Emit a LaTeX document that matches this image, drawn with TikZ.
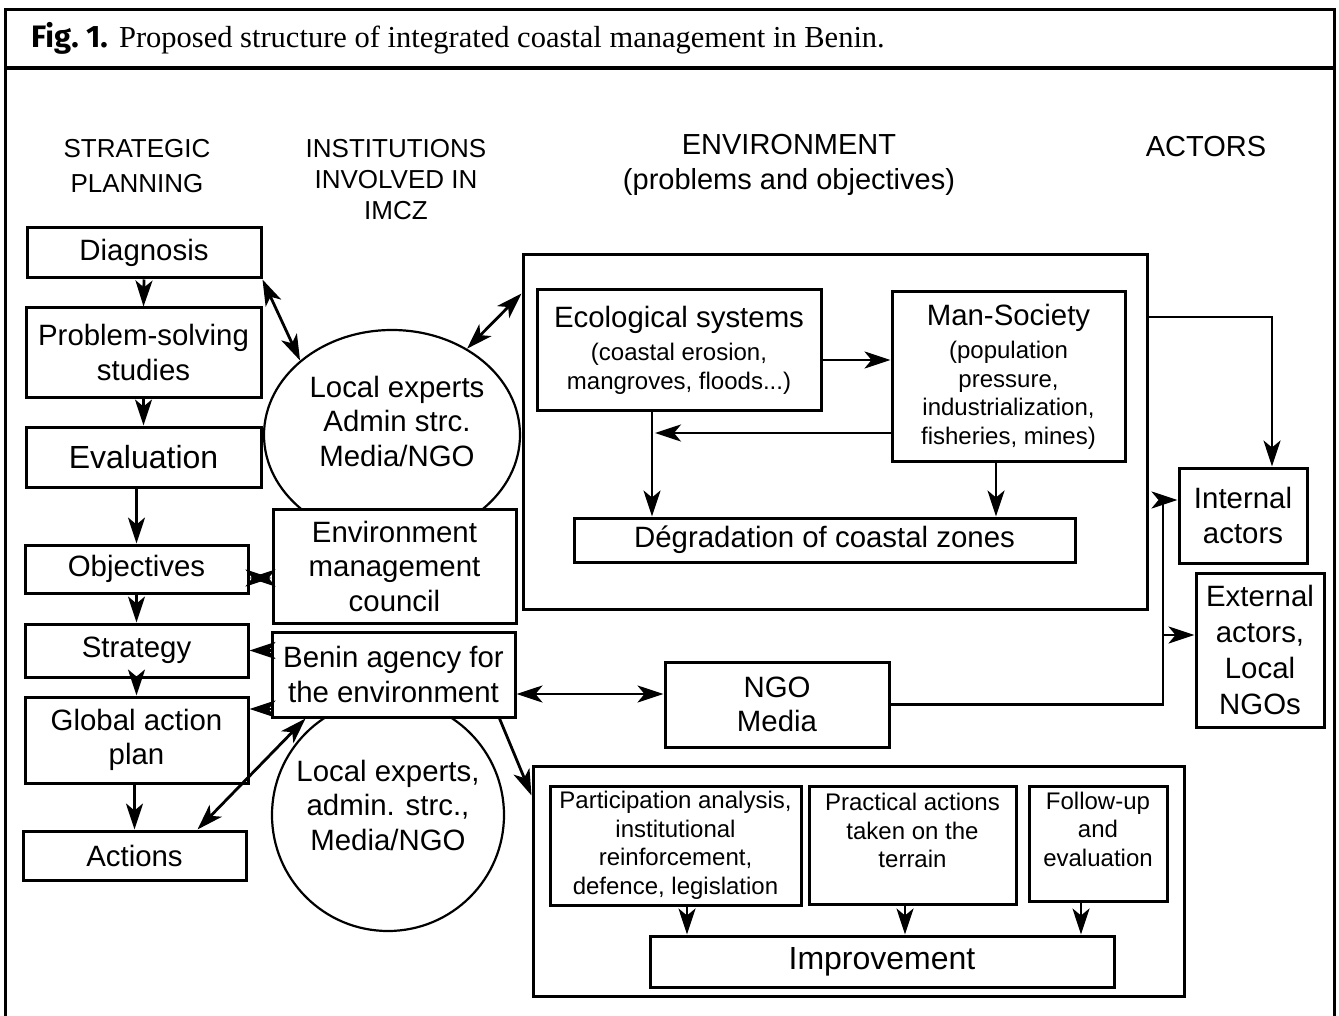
\documentclass[tikz,border=0pt]{standalone}
\usepackage{fontspec}
\setmainfont{Liberation Sans}
\newfontfamily\serifttl{Liberation Serif}
\newfontfamily\figttl{Fira Sans}
\usetikzlibrary{arrows.meta,shapes.geometric,calc}
\newcommand{\fBody}{\fontsize{29.4}{34.5}\selectfont}
\newcommand{\fSmall}{\fontsize{24}{28.5}\selectfont}
\newcommand{\fHead}{\fontsize{26}{35}\selectfont}
\newcommand{\fHeadB}{\fontsize{29}{35}\selectfont}
\newcommand{\fEval}{\fontsize{32}{36}\selectfont}
\newcommand{\fImp}{\fontsize{32}{36}\selectfont}
\newcommand{\fTitle}{\fontsize{30.5}{34}\selectfont}
\begin{document}
\begin{tikzpicture}[x=1pt,y=-1pt,
  box/.style={draw, line width=3pt, fill=white, inner sep=0pt, align=center, font=\fBody},
  smallbox/.style={box, font=\fSmall},
  bigframe/.style={draw, line width=3pt, inner sep=0pt},
  ring/.style={draw, line width=2.2pt, inner sep=0pt},
  lbl/.style={inner sep=0pt, align=center, font=\fBody},
  head/.style={inner sep=0pt, align=center, font=\fHead},
  arr/.style={line width=2.8pt, -{Stealth[length=26pt,width=17pt,inset=7pt]}},
  darr/.style={line width=2.8pt, {Stealth[length=26pt,width=17pt,inset=7pt]}-{Stealth[length=26pt,width=17pt,inset=7pt]}},
  plain/.style={line width=2.8pt}
]
\useasboundingbox (0,0) rectangle (1339,1016);
\fill[white] (0,0) rectangle (1339,1016);

% frame
\draw[line width=3pt] (5,1016) -- (5,10) -- (1334,10) -- (1334,1016);
\draw[line width=3.4pt] (5,68) -- (1334,68);
\node[anchor=base west, inner sep=0pt, font=\fTitle] (title) at (31,48)
  {{\figttl\bfseries\fontsize{31}{34}\selectfont Fig.~1.} {\serifttl Proposed structure of integrated coastal management in Benin.}};

% headers
\node[head] (h1) at (137,166) {STRATEGIC\\PLANNING};
\node[head, font=\fontsize{26}{31}\selectfont] (h2) at (396,180) {INSTITUTIONS\\INVOLVED IN\\IMCZ};
\node[head, font=\fHeadB] (h3) at (789,165) {ENVIRONMENT\\(problems and objectives)};
\node[head, font=\fHeadB] (h4) at (1206,147) {ACTORS};

% left column
\node[box, minimum width=234pt, minimum height=50pt] (diag) at (144,253) {Diagnosis};
\node[box, minimum width=235pt, minimum height=89pt] (prob) at (143.5,352.5) {Problem-solving\\studies};
\node[box, minimum width=235pt, minimum height=60pt, font=\fEval] (eval) at (143.5,457) {Evaluation};
\node[box, minimum width=223pt, minimum height=48pt] (obj) at (136.5,569) {Objectives};
\node[box, minimum width=223pt, minimum height=53pt] (strat) at (136.5,650.5) {Strategy};
\node[box, minimum width=223pt, minimum height=86pt] (glob) at (136.5,740) {Global action\\plan};
\node[box, minimum width=223pt, minimum height=49pt] (act) at (134.5,855.5) {Actions};

% middle column
\node[ring, ellipse, minimum width=256pt, minimum height=210pt] (c1) at (392,435) {};
\node[lbl] (c1t) at (397,421) {Local experts\\Admin strc.\\Media/NGO};
\node[box, minimum width=243pt, minimum height=114pt] (council) at (394.5,566) {Environment\\management\\council};
\node[ring, circle, minimum size=232pt] (c2) at (388,815) {};
\node[lbl] (c2t) at (388,805) {Local experts,\\admin. strc.,\\Media/NGO};
\node[box, minimum width=243pt, minimum height=85pt] (benin) at (393.5,674.5) {Benin agency for\\the environment};

% environment
\node[bigframe, minimum width=624pt, minimum height=354pt] (env) at (835,432) {};
\node[smallbox, minimum width=284pt, minimum height=120pt] (eco) at (679,350)
  {{\fBody Ecological systems}\\[5pt](coastal erosion,\\mangroves, floods...)};
\node[smallbox, minimum width=233pt, minimum height=169pt] (man) at (1008.5,376.5)
  {{\fBody Man-Society}\\[5pt](population\\pressure,\\industrialization,\\fisheries, mines)};
\node[box, minimum width=501pt, minimum height=44pt] (deg) at (824.5,540) {Dégradation of coastal zones};

% actors
\node[box, minimum width=128pt, minimum height=95pt] (internal) at (1243,515.5) {Internal\\actors};
\node[box, minimum width=128pt, minimum height=154pt, font=\fontsize{29.4}{36}\selectfont] (external) at (1260,650) {External\\actors,\\Local\\NGOs};
\node[box, minimum width=224pt, minimum height=85pt] (ngo) at (777,704.5) {NGO\\Media};

% improvement block
\node[bigframe, minimum width=651pt, minimum height=230pt] (impbig) at (858.5,881) {};
\node[smallbox, minimum width=251pt, minimum height=119pt] (part) at (675.5,845.5)
  {Participation analysis,\\institutional\\reinforcement,\\defence, legislation};
\node[smallbox, minimum width=207pt, minimum height=118pt] (prac) at (912.5,845)
  {Practical actions\\taken on the\\terrain\\\phantom{x}};
\node[smallbox, minimum width=138pt, minimum height=115pt] (follow) at (1098,843.5)
  {Follow-up\\and\\evaluation\\\phantom{x}};
\node[box, minimum width=464pt, minimum height=51pt, font=\fImp] (imp) at (882,961.5) {Improvement};

% coordinates for bends
\coordinate (j1) at (1272,317);
\coordinate (jn) at (1163,704.5);
\coordinate (ji) at (1163,500);
\coordinate (je) at (1163,635);
\coordinate (jm) at (655,433);
\coordinate (ev) at (652,410);

% left column arrows
\draw[arr] (diag.south) -- (prob.north);
\draw[arr] (prob.south) -- (eval.north);
\draw[arr] (eval.south -| obj.north) -- (obj.north);
\draw[arr] (obj.south) -- (strat.north);
\draw[arr] (strat.south) -- (glob.north);
\draw[arr] (glob.south -| act.north) -- (act.north);

% middle arrows
\draw[darr] (diag.south east) -- (c1.141);
\draw[darr] (c1.49) -- ([yshift=-40pt]env.north west);
\draw[darr] ([yshift=-9pt]obj.east) -- ([yshift=-9pt]obj.east -| council.west);
\draw[arr] (benin.west |- strat.east) -- (strat.east);
\draw[arr] ([yshift=-34.5pt]benin.west) -- ([yshift=-34.5pt]benin.west -| glob.east);
\draw[darr] ([xshift=35pt]benin.south west) -- ([xshift=-50pt]act.north east);
\draw[arr] ([xshift=-17pt]benin.south east) -- ([yshift=-31pt]impbig.north west);
\draw[darr] ([yshift=-19.5pt]benin.east) -- ([yshift=-19.5pt]benin.east -| ngo.west);

% environment arrows
\draw[arr] ([yshift=-10pt]eco.east) -- ([yshift=-10pt]eco.east -| man.west);
\draw[arr] (jm -| man.west) -- (jm);
\draw[arr] (ev) -- (ev |- deg.north);
\draw[arr] ([xshift=-12.5pt]man.south) -- ([xshift=-12.5pt]man.south |- deg.north);

% actors arrows
\draw[arr] (env.east |- j1) -- (j1) -- (j1 |- internal.north);
\draw[arr] (ngo.east) -- (jn) -- (ji) -- (ji -| internal.west);
\draw[arr] (je) -- (je -| external.west);

% improvement arrows
\draw[arr] ([xshift=11.5pt]part.south) -- ([xshift=11.5pt]part.south |- imp.north);
\draw[arr] ([xshift=-7.5pt]prac.south) -- ([xshift=-7.5pt]prac.south |- imp.north);
\draw[arr] ([xshift=-17pt]follow.south) -- ([xshift=-17pt]follow.south |- imp.north);
\end{tikzpicture}
\end{document}
